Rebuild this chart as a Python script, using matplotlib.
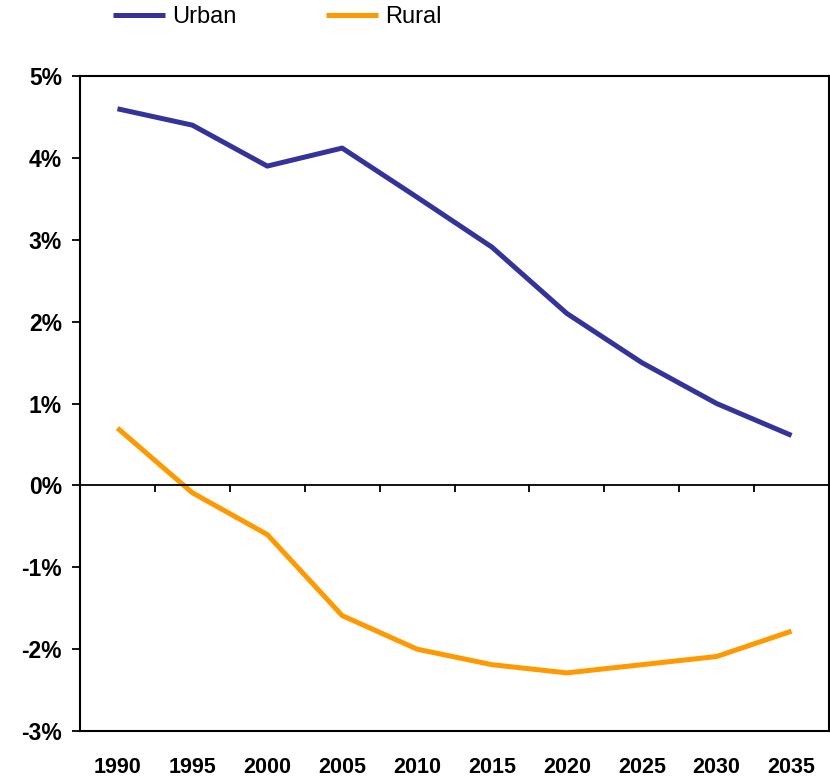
import matplotlib.pyplot as plt
import numpy as np

years = ["1990", "1995", "2000", "2005", "2010", "2015", "2020", "2025", "2030", "2035"]
urban = [4.6, 4.4, 3.9, 4.12, 3.52, 2.91, 2.1, 1.5, 1.0, 0.61]
rural = [0.7, -0.09, -0.6, -1.59, -2.0, -2.19, -2.29, -2.19, -2.09, -1.78]

plt.rcParams['font.family'] = ['Liberation Sans', 'DejaVu Sans']

fig = plt.figure(figsize=(8.3, 7.79), dpi=100)
ax = fig.add_axes([0.0964, 0.0616, 0.9024, 0.8408])

x = np.arange(len(years))
ax.plot(x, urban, color='#333399', linewidth=3.6, label="Urban", solid_capstyle='butt')
ax.plot(x, rural, color='#FF9900', linewidth=3.6, label="Rural", solid_capstyle='butt')

ax.set_xlim(-0.5, len(years) - 0.5)
ax.set_ylim(-3, 5)
ax.set_yticks(range(-3, 6))
ax.set_yticklabels([f"{v}%" for v in range(-3, 6)], fontsize=16.5, fontweight='bold')
ax.tick_params(axis='y', length=6, width=1.3, direction='out', pad=7)

ax.set_xticks(x)
ax.set_xticklabels(years, fontsize=15.5, fontweight='bold')
ax.tick_params(axis='x', length=0, pad=19)

for s in ax.spines.values():
    s.set_linewidth(1.5)
    s.set_color('black')

# zero line with category boundary ticks
ax.axhline(0, color='black', linewidth=1.3)
sec = ax.secondary_xaxis(3 / 8)
sec.set_xticks(np.arange(0.5, len(years) - 1, 1.0))
sec.set_xticklabels([])
sec.xaxis.set_ticks_position('bottom')
sec.tick_params(axis='x', length=5, width=1.3, direction='out')
for s in sec.spines.values():
    s.set_visible(False)

fig.legend(loc='center left', bbox_to_anchor=(113 / 830, 1 - 17 / 779), ncol=2, frameon=False,
           fontsize=17, handlelength=2.2, handletextpad=0.3, columnspacing=3.8,
           borderpad=0, borderaxespad=0)

plt.savefig("out.png", dpi=100)
